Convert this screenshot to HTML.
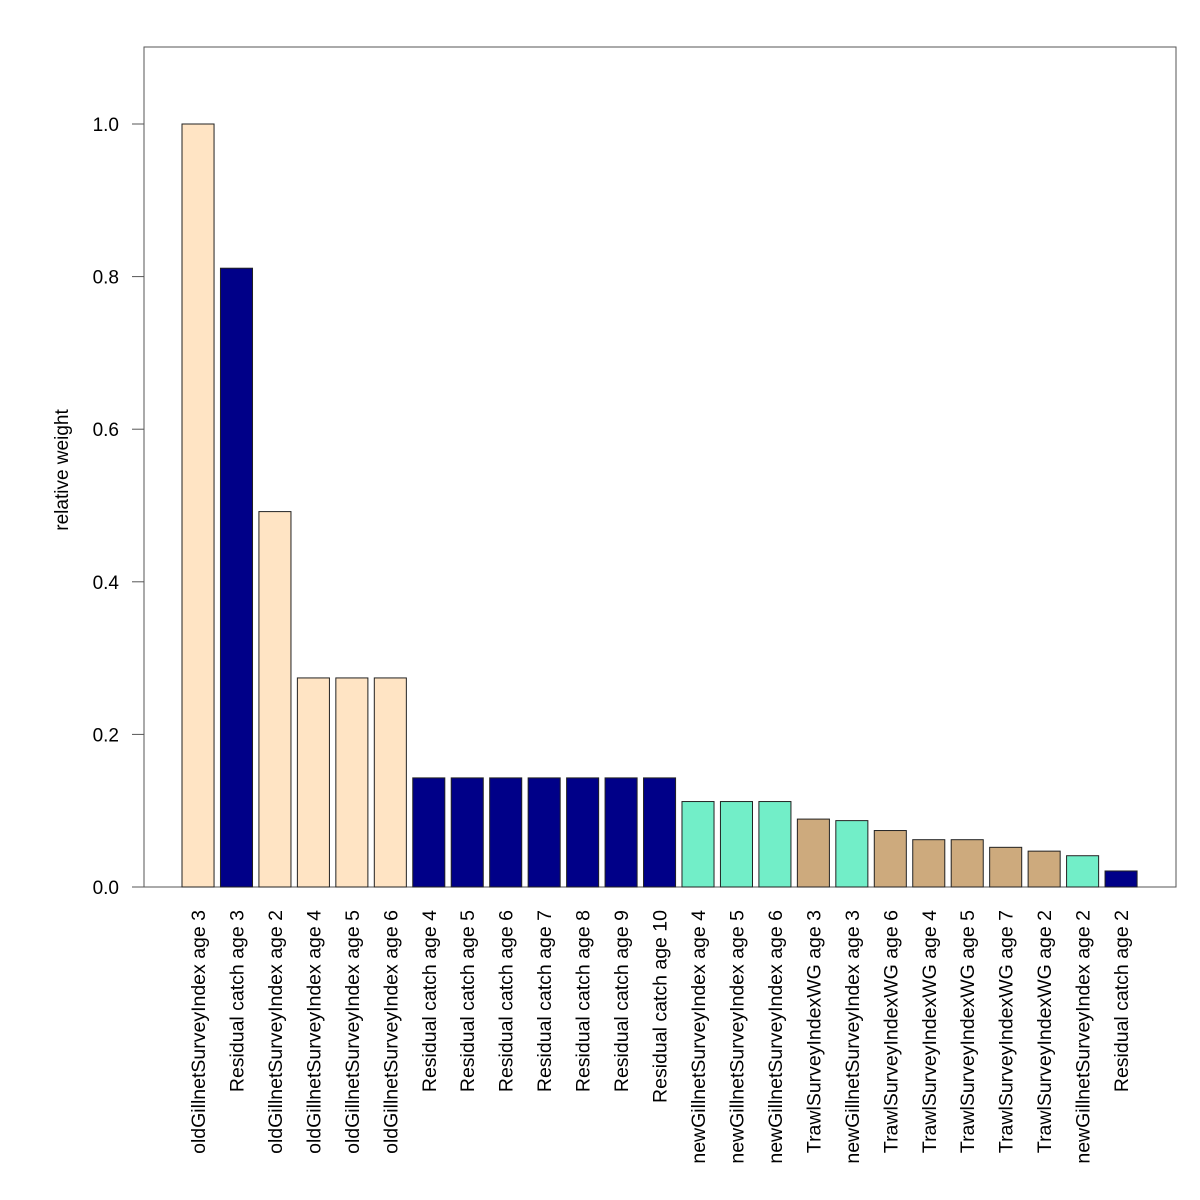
<!DOCTYPE html>
<html><head><meta charset="utf-8"><style>body{margin:0;background:#fff}svg{display:block;font-family:"Liberation Sans",sans-serif}</style></head>
<body>
<svg id="chart" width="1200" height="1200" xmlns="http://www.w3.org/2000/svg">
<rect width="1200" height="1200" fill="#fff"/>
<rect x="144" y="47" width="1032" height="840" fill="none" stroke="#555" stroke-width="1"/>
<text transform="translate(68,470) rotate(-90)" text-anchor="middle" font-size="19">relative weight</text>
<g id="bars"></g><g id="yax"></g><g id="xlab"></g>
</svg>
<script>
const categories=["oldGillnetSurveyIndex age 3","Residual catch age 3","oldGillnetSurveyIndex age 2","oldGillnetSurveyIndex age 4","oldGillnetSurveyIndex age 5","oldGillnetSurveyIndex age 6","Residual catch age 4","Residual catch age 5","Residual catch age 6","Residual catch age 7","Residual catch age 8","Residual catch age 9","Residual catch age 10","newGillnetSurveyIndex age 4","newGillnetSurveyIndex age 5","newGillnetSurveyIndex age 6","TrawlSurveyIndexWG age 3","newGillnetSurveyIndex age 3","TrawlSurveyIndexWG age 6","TrawlSurveyIndexWG age 4","TrawlSurveyIndexWG age 5","TrawlSurveyIndexWG age 7","TrawlSurveyIndexWG age 2","newGillnetSurveyIndex age 2","Residual catch age 2"];
const values=[1.0,0.811,0.492,0.274,0.274,0.274,0.143,0.143,0.143,0.143,0.143,0.143,0.143,0.112,0.112,0.112,0.089,0.087,0.074,0.062,0.062,0.052,0.047,0.041,0.021];
const groups=["old","res","old","old","old","old","res","res","res","res","res","res","res","new","new","new","trawl","new","trawl","trawl","trawl","trawl","trawl","new","res"];
const yTicks=["0.0","0.2","0.4","0.6","0.8","1.0"];
const colors={old:"#FFE4C4",res:"#000088",new:"#72EEC8",trawl:"#CDAA7D"};
const NS="http://www.w3.org/2000/svg";
const y=v=>887-v*763;
const step=38.46,bw=32.05;
const x=i=>182+i*step;
const bars=document.getElementById('bars'),yax=document.getElementById('yax'),xl=document.getElementById('xlab');
values.forEach((v,i)=>{
 const r=document.createElementNS(NS,'rect');
 
 
 r.setAttribute('x',x(i));r.setAttribute('width',bw);
 r.setAttribute('y',y(v));r.setAttribute('height',887-y(v));
 r.setAttribute('fill',colors[groups[i]]);r.setAttribute('stroke','#222');r.setAttribute('stroke-width','1');
 bars.appendChild(r);
 const t=document.createElementNS(NS,'text');
 
 
 const cx=x(i)+bw/2+7;
 t.setAttribute('transform','translate('+cx+',910) rotate(-90)');
 t.setAttribute('text-anchor','end');t.setAttribute('font-size','19.5');
 t.textContent=categories[i];xl.appendChild(t);
});
yTicks.forEach(s=>{
 const v=parseFloat(s);
 const l=document.createElementNS(NS,'line');
 
 
 l.setAttribute('x1',132);l.setAttribute('x2',144);l.setAttribute('y1',y(v));l.setAttribute('y2',y(v));l.setAttribute('stroke','#555');
 yax.appendChild(l);
 const t=document.createElementNS(NS,'text');
 
 
 t.setAttribute('x',119);t.setAttribute('y',y(v)+7);t.setAttribute('text-anchor','end');t.setAttribute('font-size','19');
 t.textContent=s;yax.appendChild(t);
});
</script>
</body></html>
